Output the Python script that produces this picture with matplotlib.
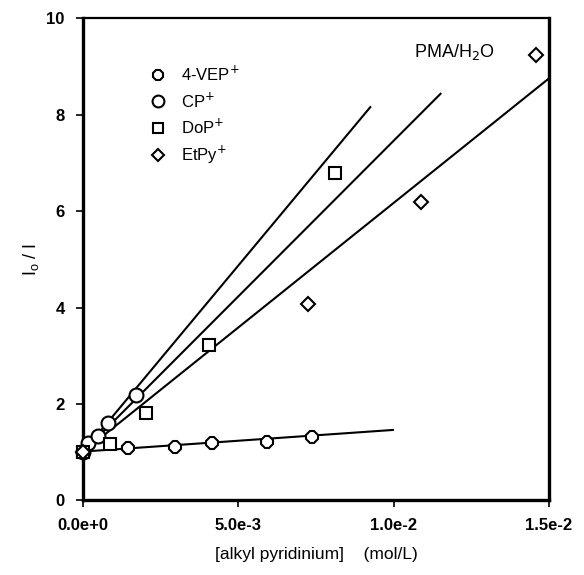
import numpy as np
import matplotlib
matplotlib.use("Agg")
import matplotlib.pyplot as plt

plt.rcParams['font.family'] = ['Liberation Sans', 'DejaVu Sans']

# quenching data, x in mol/L, y = I0/I
vep_x = [0.0, 1.46e-3, 2.96e-3, 4.16e-3, 5.93e-3, 7.38e-3]
vep_y = [1.00, 1.08, 1.11, 1.18, 1.21, 1.32]

cp_x = [0.0, 0.17e-3, 0.47e-3, 0.81e-3, 1.70e-3]
cp_y = [1.00, 1.18, 1.33, 1.60, 2.19]

dop_x = [0.0, 0.87e-3, 2.03e-3, 4.05e-3, 8.12e-3]
dop_y = [1.00, 1.17, 1.82, 3.23, 6.79]

etpy_x = [0.0, 7.25e-3, 10.87e-3, 14.59e-3]
etpy_y = [1.00, 4.08, 6.19, 9.25]

# Stern-Volmer fit lines: CP, DoP, EtPy, 4-VEP
fit_slope = [774, 646, 517, 45]
fit_intercept = [1.0, 1.0, 1.0, 1.01]
fit_xmax = [9.25e-3, 11.51e-3, 15.0e-3, 9.98e-3]

xticks = [0.0, 5e-3, 1e-2, 1.5e-2]
xticklabels = ['0.0e+0', '5.0e-3', '1.0e-2', '1.5e-2']
yticks = [0, 2, 4, 6, 8, 10]

fig = plt.figure(figsize=(5.84, 5.75), dpi=100)
ax = fig.add_axes([0.142, 0.130, 0.798, 0.838])

for k, b, xm in zip(fit_slope, fit_intercept, fit_xmax):
    xx = np.array([0.0, xm])
    ax.plot(xx, b + k * xx, color='black', lw=1.5, zorder=2)

mk = dict(mfc='white', mec='black', mew=1.5, ls='none', zorder=3, clip_on=False)
ax.plot(vep_x, vep_y, marker='8', ms=9, label='4-VEP$^{+}$', **mk)
ax.plot(cp_x, cp_y, marker='o', ms=10, label='CP$^{+}$', **mk)
ax.plot(dop_x, dop_y, marker='s', ms=8, label='DoP$^{+}$', **mk)
ax.plot(etpy_x, etpy_y, marker='D', ms=7, label='EtPy$^{+}$', **mk)

leg = ax.legend(loc='upper left', bbox_to_anchor=(0.11, 0.935), frameon=False,
                fontsize=12, handlelength=1.0, handletextpad=0.9, labelspacing=0.42,
                markerscale=0.85)

ax.text(0.01196, 9.3, 'PMA/H$_2$O', fontsize=13, ha='center', va='center')

ax.set_xlim(0, 0.015)
ax.set_ylim(0, 10)
ax.set_xticks(xticks)
ax.set_xticklabels(xticklabels, fontweight='bold', fontsize=12)
ax.set_yticks(yticks)
ax.set_yticklabels([str(t) for t in yticks], fontweight='bold', fontsize=12)
ax.tick_params(direction='out', length=5, width=1.2, pad=8)

for side in ['left', 'bottom', 'right']:
    ax.spines[side].set_linewidth(2.4)
ax.spines['top'].set_linewidth(1.6)

ax.set_xlabel('[alkyl pyridinium]    (mol/L)', fontsize=12.5, labelpad=10)
ax.set_ylabel('I$_\\mathregular{o}$ / I', fontsize=13, labelpad=4)

fig.savefig('out.png', dpi=100)
